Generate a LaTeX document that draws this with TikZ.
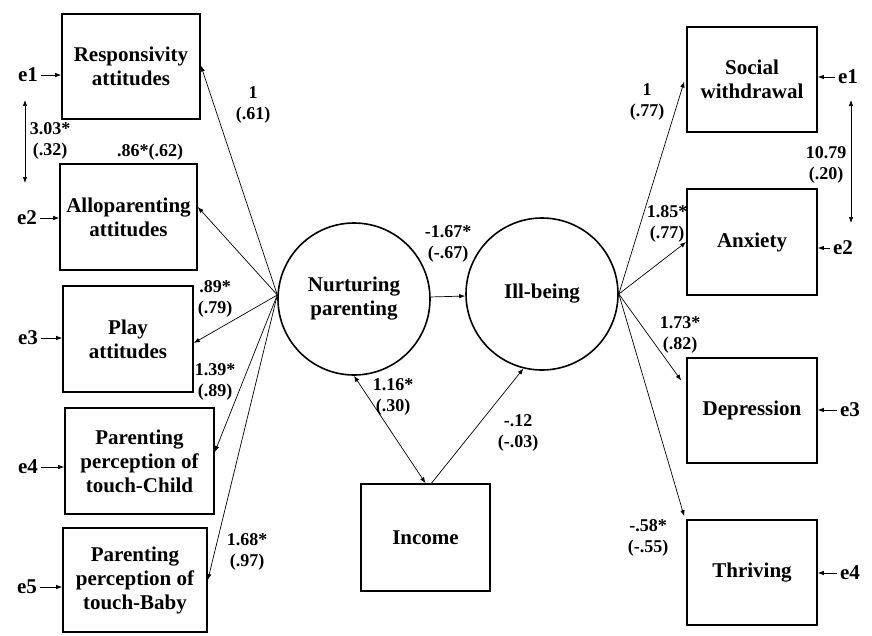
\documentclass[tikz,border=0pt]{standalone}
\usepackage{fontspec}
\setmainfont{Liberation Serif}
\usetikzlibrary{arrows.meta}
\newcommand{\boxfnt}{\bfseries\fontsize{21}{24}\selectfont}
\newcommand{\labfnt}{\bfseries\fontsize{18}{21}\selectfont}
\begin{document}
\begin{tikzpicture}[x=1pt,y=-1pt,
  box/.style={draw,line width=1.6pt,align=center,inner sep=0pt,font=\boxfnt},
  lat/.style={draw,circle,line width=1.6pt,minimum size=152pt,inner sep=0pt,align=center,font=\boxfnt},
  arr/.style={-{Latex[length=6pt,width=4.5pt]},line width=0.7pt},
  darr/.style={{Latex[length=6pt,width=4.5pt]}-{Latex[length=6pt,width=4.5pt]},line width=0.7pt},
  lab/.style={align=center,font=\labfnt,inner sep=0pt},
  err/.style={font=\boxfnt,inner sep=3pt}]
\fill[white] (0,0) rectangle (872,635);
\useasboundingbox (0,0) rectangle (872,635);

% left indicator boxes
\node[box,minimum width=138pt,minimum height=105pt] (r1) at (131,66.5) {Responsivity\\attitudes};
\node[box,minimum width=137pt,minimum height=106pt] (r2) at (128.5,217) {Alloparenting\\attitudes};
\node[box,minimum width=130pt,minimum height=106pt] (r3) at (128,339) {Play\\attitudes};
\node[box,minimum width=149pt,minimum height=106pt] (r4) at (139.5,461) {Parenting\\perception of\\touch-Child};
\node[box,minimum width=144pt,minimum height=104pt] (r5) at (135,580) {Parenting\\perception of\\touch-Baby};

% right indicator boxes
\node[box,minimum width=130pt,minimum height=105pt] (s1) at (752,79.5) {Social\\withdrawal};
\node[box,minimum width=130pt,minimum height=106pt] (s2) at (752,242) {Anxiety};
\node[box,minimum width=130pt,minimum height=105pt] (s3) at (752,410.5) {Depression};
\node[box,minimum width=130pt,minimum height=105pt] (s4) at (752,572.5) {Thriving};

% income
\node[box,minimum width=129pt,minimum height=107pt] (inc) at (425.5,537.5) {Income};

% latent variables
\node[lat] (np) at (354,299) {Nurturing\\parenting};
\node[lat] (ib) at (542,294) {Ill-being};

% error terms left
\node[err] (el1) at (28,75) {e1};
\node[err] (el2) at (27,218) {e2};
\node[err] (el3) at (28,338) {e3};
\node[err] (el4) at (28,467) {e4};
\node[err] (el5) at (27,587) {e5};
\foreach \i in {1,...,5} {\draw[arr] (el\i.east) -- (el\i.east -| r\i.west);}

% error terms right
\node[err] (er1) at (848,77) {e1};
\node[err] (er2) at (843,248) {e2};
\node[err] (er3) at (850,410) {e3};
\node[err] (er4) at (850,573) {e4};
\foreach \i in {1,...,4} {\draw[arr] (er\i.west) -- (er\i.west -| s\i.east);}

% error covariances
\coordinate (cl1) at (25,100);
\coordinate (cl2) at (25,183);
\draw[darr] (cl1) -- (cl2);
\coordinate (cr1) at (851,100);
\coordinate (cr2) at (851,223);
\draw[darr] (cr1) -- (cr2);

% loadings nurturing parenting
\coordinate (npl) at (np.177);
\draw[arr] (npl) -- ([yshift=1pt]r1.east);
\draw[arr] (npl) -- ([yshift=10pt]r2.east);
\draw[arr] (npl) -- ([yshift=-4pt]r3.east);
\draw[arr] (npl) -- ([yshift=9pt]r4.east);
\draw[arr] (npl) -- (r5.east);

% loadings ill-being
\coordinate (ibr) at (ib.east);
\draw[arr] (ibr) -- ([xshift=-2pt,yshift=-2pt]s1.west);
\draw[arr] (ibr) -- (s2.west);
\draw[arr] (ibr) -- ([xshift=-5pt,yshift=30pt]s3.west);
\draw[arr] (ibr) -- ([xshift=-2pt,yshift=3pt]s4.north west);

% structural paths
\draw[arr] (np) -- (ib);
\draw[darr] (np.south) -- (inc.north);
\draw[arr] ([xshift=6pt]inc.north) -- (ib.256);

% labels
\node[lab] (l1) at (253,105) {1\\(.61)};
\node[lab] (l2) at (50,141) {3.03*\\(.32)};
\node[lab] (l3) at (150,152) {.86*(.62)};
\node[lab] (l4) at (215,299) {.89*\\(.79)};
\node[lab] (l5) at (215,382) {1.39*\\(.89)};
\node[lab] (l6) at (247,552) {1.68*\\(.97)};
\node[lab] (l7) at (448,244) {-1.67*\\(-.67)};
\node[lab] (l8) at (393,397) {1.16*\\(.30)};
\node[lab] (l9) at (518,433) {-.12\\(-.03)};
\node[lab] (l10) at (647,102) {1\\(.77)};
\node[lab] (l11) at (826,165) {10.79\\(.20)};
\node[lab] (l12) at (667,224) {1.85*\\(.77)};
\node[lab] (l13) at (680,335) {1.73*\\(.82)};
\node[lab] (l14) at (648,538) {-.58*\\(-.55)};
\end{tikzpicture}
\end{document}
